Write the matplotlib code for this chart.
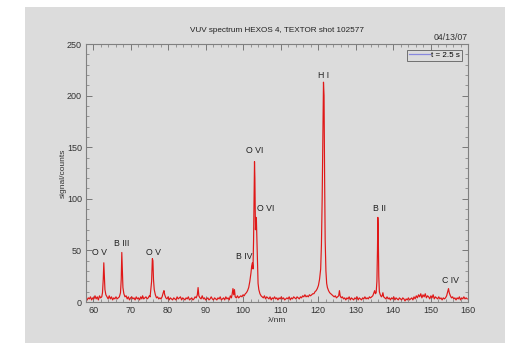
import matplotlib
matplotlib.use("Agg")
import matplotlib.pyplot as plt
from matplotlib.ticker import MultipleLocator
from matplotlib.patches import Rectangle
from matplotlib.lines import Line2D

plt.rcParams['font.family'] = ['Liberation Sans', 'DejaVu Sans']

# spectrum samples (wavelength nm, counts)
spectrum = [
    (58.4, 2), (58.7, 4), (59.0, 3), (59.3, 5), (59.6, 2), (59.9, 4), (60.2, 3), (60.5, 6), (60.8, 3),
    (61.1, 5), (61.4, 2), (61.7, 6), (62.0, 4), (62.3, 5), (62.5, 9), (62.7, 22), (62.85, 38), (63.0, 25),
    (63.15, 12), (63.4, 7), (63.7, 5), (64.0, 3), (64.3, 6), (64.6, 3), (64.9, 5), (65.2, 2), (65.5, 4),
    (65.8, 3), (66.1, 5), (66.4, 3), (66.7, 4), (67.0, 5), (67.3, 9), (67.5, 22), (67.65, 48), (67.8, 30),
    (67.95, 14), (68.2, 8), (68.5, 5), (68.8, 6), (69.1, 3), (69.4, 5), (69.7, 2), (70.0, 4), (70.3, 5),
    (70.6, 3), (70.9, 4), (71.2, 2), (71.5, 5), (71.8, 3), (72.1, 4), (72.4, 2), (72.7, 5), (73.0, 3),
    (73.2, 6), (73.5, 3), (73.8, 4), (74.1, 5), (74.4, 3), (74.7, 4), (75.0, 6), (75.2, 5), (75.4, 12),
    (75.6, 20), (75.8, 42), (75.95, 40), (76.1, 22), (76.3, 12), (76.6, 7), (76.9, 4), (77.2, 5), (77.5, 3),
    (77.8, 4), (78.1, 3), (78.4, 5), (78.7, 9), (78.9, 11), (79.1, 7), (79.4, 4), (79.7, 3), (80.0, 5),
    (80.3, 2), (80.6, 4), (80.9, 3), (81.2, 2), (81.5, 4), (81.8, 3), (82.1, 2), (82.4, 5), (82.7, 3),
    (83.0, 4), (83.3, 5), (83.6, 2), (83.9, 4), (84.2, 3), (84.5, 2), (84.8, 4), (85.1, 3), (85.4, 5),
    (85.7, 2), (86.0, 3), (86.3, 4), (86.6, 2), (86.9, 3), (87.2, 5), (87.5, 4), (87.8, 7), (88.0, 14),
    (88.2, 6), (88.5, 4), (88.8, 3), (89.1, 6), (89.4, 3), (89.7, 4), (90.0, 2), (90.3, 3), (90.6, 4),
    (90.9, 2), (91.2, 3), (91.5, 5), (91.8, 3), (92.1, 2), (92.4, 4), (92.7, 3), (93.0, 2), (93.3, 4),
    (93.6, 3), (93.9, 5), (94.2, 2), (94.5, 3), (94.8, 4), (95.1, 2), (95.4, 5), (95.7, 3), (96.0, 4),
    (96.3, 2), (96.6, 6), (96.9, 4), (97.1, 8), (97.3, 13), (97.5, 7), (97.7, 12), (97.9, 5), (98.2, 4),
    (98.5, 6), (98.8, 4), (99.1, 5), (99.4, 6), (99.7, 5), (100.0, 7), (100.3, 6), (100.6, 8), (100.9, 9),
    (101.2, 11), (101.5, 14), (101.8, 20), (102.1, 28), (102.3, 35), (102.5, 38), (102.65, 32), (102.8, 60),
    (102.95, 110), (103.05, 136), (103.15, 120), (103.3, 70), (103.45, 82), (103.55, 80), (103.7, 60),
    (103.85, 40), (104.0, 18), (104.2, 12), (104.5, 8), (104.8, 6), (105.1, 5), (105.4, 4), (105.7, 6),
    (106.0, 3), (106.3, 5), (106.6, 4), (106.9, 3), (107.2, 5), (107.5, 2), (107.8, 4), (108.1, 3),
    (108.4, 5), (108.7, 3), (109.0, 4), (109.3, 2), (109.6, 4), (109.9, 3), (110.2, 5), (110.5, 3),
    (110.8, 4), (111.1, 2), (111.4, 3), (111.7, 4), (112.0, 3), (112.3, 5), (112.6, 2), (112.9, 4),
    (113.2, 3), (113.5, 5), (113.8, 4), (114.1, 3), (114.4, 5), (114.7, 4), (115.0, 3), (115.3, 5),
    (115.6, 4), (115.9, 6), (116.2, 5), (116.5, 7), (116.8, 5), (117.1, 6), (117.4, 5), (117.7, 7),
    (118.0, 6), (118.3, 7), (118.6, 8), (118.9, 8), (119.2, 10), (119.5, 11), (119.8, 13), (120.1, 16),
    (120.4, 22), (120.7, 32), (120.9, 55), (121.1, 100), (121.3, 170), (121.45, 213), (121.6, 200),
    (121.75, 120), (121.9, 60), (122.1, 30), (122.3, 18), (122.5, 14), (122.8, 11), (123.1, 9), (123.4, 8),
    (123.7, 7), (124.0, 6), (124.3, 5), (124.6, 6), (124.9, 4), (125.2, 5), (125.5, 6), (125.7, 11),
    (125.9, 6), (126.2, 4), (126.5, 5), (126.8, 3), (127.1, 4), (127.4, 2), (127.7, 4), (128.0, 3),
    (128.3, 5), (128.6, 2), (128.9, 4), (129.2, 3), (129.5, 2), (129.8, 4), (130.1, 3), (130.4, 5),
    (130.7, 2), (131.0, 4), (131.3, 3), (131.6, 2), (131.9, 4), (132.2, 3), (132.5, 5), (132.8, 3),
    (133.1, 4), (133.4, 3), (133.7, 5), (134.0, 4), (134.3, 5), (134.6, 6), (134.9, 9), (135.1, 11),
    (135.3, 8), (135.5, 9), (135.7, 20), (135.85, 50), (135.95, 82), (136.05, 70), (136.2, 25), (136.35, 10),
    (136.6, 7), (136.9, 5), (137.1, 6), (137.3, 9), (137.5, 5), (137.8, 4), (138.1, 3), (138.4, 5),
    (138.7, 3), (139.0, 4), (139.3, 2), (139.6, 4), (139.9, 3), (140.2, 5), (140.5, 2), (140.8, 4),
    (141.1, 3), (141.4, 2), (141.7, 4), (142.0, 3), (142.3, 2), (142.6, 4), (142.9, 3), (143.2, 1),
    (143.5, 3), (143.8, 2), (144.1, 4), (144.4, 2), (144.7, 3), (145.0, 4), (145.3, 2), (145.6, 5),
    (145.9, 3), (146.2, 6), (146.5, 4), (146.8, 7), (147.1, 5), (147.4, 8), (147.7, 4), (148.0, 7),
    (148.3, 5), (148.6, 8), (148.9, 4), (149.2, 6), (149.5, 5), (149.8, 3), (150.1, 6), (150.4, 4),
    (150.7, 7), (151.0, 3), (151.3, 5), (151.6, 4), (151.9, 3), (152.2, 5), (152.5, 3), (152.8, 4),
    (153.1, 2), (153.4, 4), (153.7, 3), (154.0, 4), (154.3, 6), (154.6, 10), (154.8, 13), (155.0, 9),
    (155.3, 6), (155.6, 4), (155.9, 5), (156.2, 3), (156.5, 4), (156.8, 2), (157.1, 4), (157.4, 3),
    (157.7, 5), (158.0, 2), (158.3, 4), (158.6, 3), (158.9, 5), (159.2, 3), (159.5, 4), (159.8, 3),
]
wavelength = [p[0] for p in spectrum]
counts = [p[1] for p in spectrum]

# line identifications: label, wavelength, label height
line_labels = ["O V", "B III", "O V", "B IV", "O VI", "O VI", "H I", "B II", "C IV"]
line_wl = [61.7, 67.6, 76.1, 100.3, 103.2, 105.9, 121.4, 136.4, 155.2]
line_y = [44, 52, 44, 40, 142, 86, 215, 86, 16]

GRAY = "#dcdcdc"
fig = plt.figure(figsize=(5.06, 3.43), dpi=100)
fig.patch.set_facecolor("white")
fig.patches.append(Rectangle((25 / 506, 0), 1 - 25 / 506, 1 - 7 / 343,
                             transform=fig.transFigure, facecolor=GRAY,
                             edgecolor="none", zorder=-10))
ax = fig.add_axes([86 / 506, 1 - 302 / 343, (468 - 86) / 506, (302 - 44) / 343])
ax.set_facecolor(GRAY)

ax.plot(wavelength, counts, color="#e01818", lw=0.85)

ax.set_xlim(58.1, 160)
ax.set_ylim(0, 250)
ax.xaxis.set_major_locator(MultipleLocator(10))
ax.xaxis.set_minor_locator(MultipleLocator(2))
ax.yaxis.set_major_locator(MultipleLocator(50))
ax.yaxis.set_minor_locator(MultipleLocator(10))
ax.tick_params(which="both", direction="in", top=True, right=True,
               color="#777777", labelsize=6.5, labelcolor="#333333", pad=3)
ax.tick_params(which="major", length=4, width=0.7)
ax.tick_params(which="minor", length=2, width=0.5)
for s in ax.spines.values():
    s.set_color("#808080")
    s.set_linewidth(0.8)

for lab, x, y in zip(line_labels, line_wl, line_y):
    ax.text(x, y, lab, ha="center", va="bottom", fontsize=6.3, color="#222222")

ax.set_xlabel("λ/nm", fontsize=6, color="#333333", labelpad=1)
ax.set_ylabel("signal/counts", fontsize=6, color="#333333", labelpad=0)
ax.set_title("VUV spectrum HEXOS 4, TEXTOR shot 102577", fontsize=5.9,
             color="#222222", pad=9)
ax.text(1.0, 1.008, "04/13/07", transform=ax.transAxes, ha="right",
        va="bottom", fontsize=6.3, color="#333333")

handle = Line2D([], [], color="#8888dd", lw=0.9)
leg = ax.legend([handle], ["t = 2.5 s"], loc="upper right", fontsize=5.8,
                frameon=True, fancybox=False, handlelength=2.6,
                handletextpad=0.2, borderpad=0.25, borderaxespad=0.7)
leg.get_frame().set_facecolor(GRAY)
leg.get_frame().set_edgecolor("#555555")
leg.get_frame().set_linewidth(0.7)

fig.savefig("out.png", dpi=100, facecolor=fig.get_facecolor())
